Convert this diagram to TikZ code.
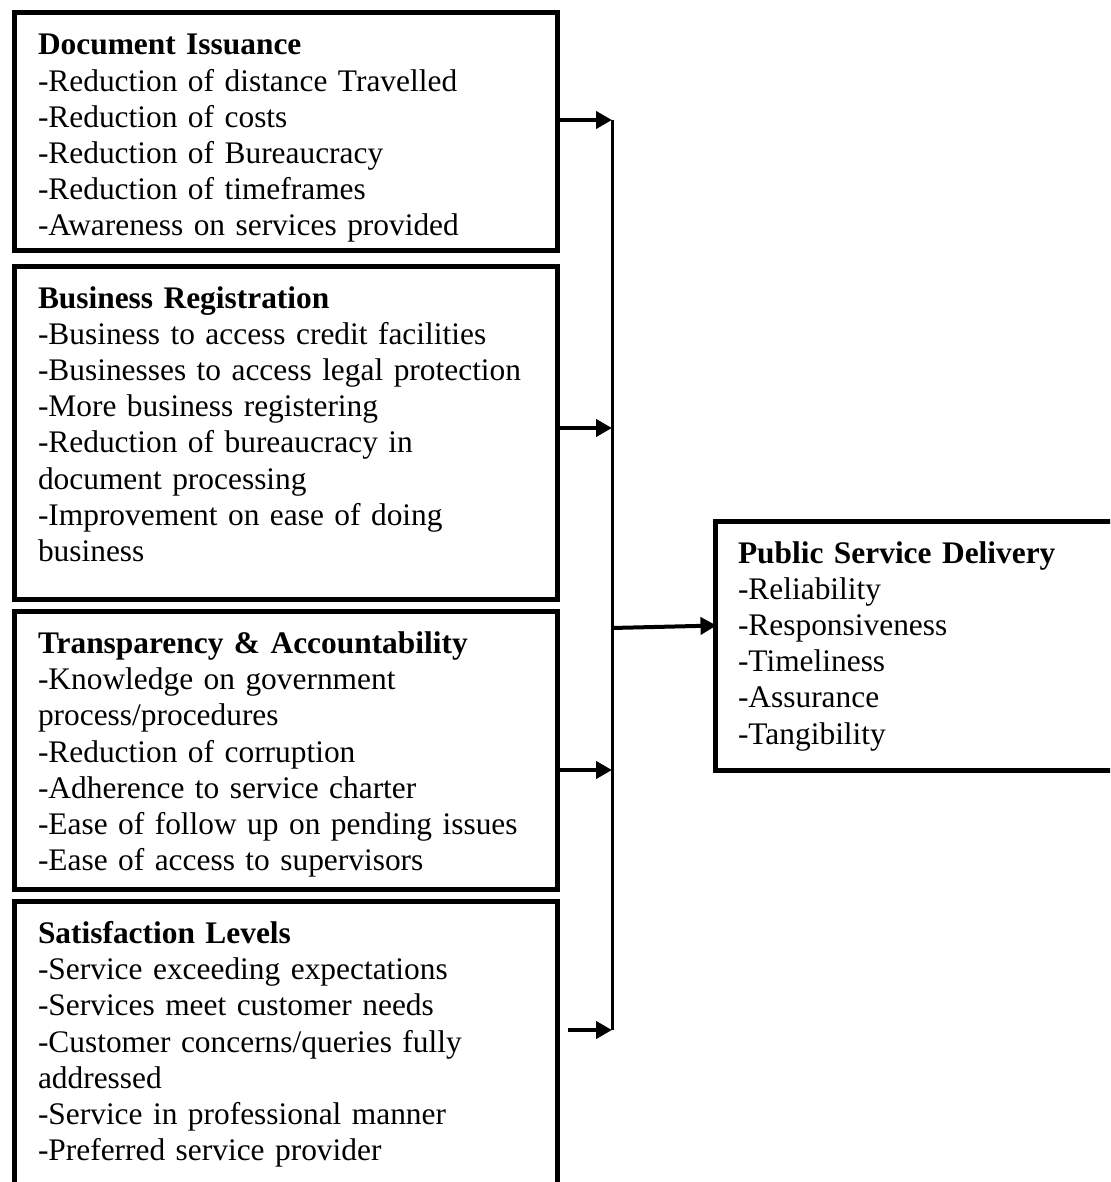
\documentclass[tikz,border=0pt]{standalone}
\usepackage{fontspec}
\setmainfont{Liberation Serif}
\usetikzlibrary{arrows.meta, positioning}

\begin{document}
\begin{tikzpicture}[x=0.5pt, y=-0.5pt]
    \tikzset{
        block/.style = {rectangle, draw, line width=2.5pt, text width=247.5pt, inner xsep=12pt, inner ysep=0pt, text height=21pt, align=left, font=\fontsize{15.7}{18.1}\selectfont},
        line/.style = {draw, line width=2pt, -{Triangle[length=8pt, width=8.5pt]}},
        trunk/.style = {draw, line width=1.5pt}
    }
    \useasboundingbox (0,0) rectangle (1110,1182);
    \clip (0,0) rectangle (1110,1182);

    % left column
    \node[block, anchor=north west, text depth=97.5pt] (issue) at (11.5,10.5) {\textbf{Document Issuance}\\-Reduction of distance Travelled\\-Reduction of costs\\-Reduction of Bureaucracy\\-Reduction of timeframes\\-Awareness on services provided};
    \node[block, below=5.5pt of issue, text depth=145.5pt] (business) {\textbf{Business Registration}\\-Business to access credit facilities\\-Businesses to access legal protection\\-More business registering\\-Reduction of bureaucracy in\\document processing\\-Improvement on ease of doing\\business};
    \node[block, below=3.75pt of business, text depth=118pt] (transparency) {\textbf{Transparency \& Accountability}\\-Knowledge on government\\process/procedures\\-Reduction of corruption\\-Adherence to service charter\\-Ease of follow up on pending issues\\-Ease of access to supervisors};
    \node[block, below=3.5pt of transparency, text depth=135pt] (satisfaction) {\textbf{Satisfaction Levels}\\-Service exceeding expectations\\-Services meet customer needs\\-Customer concerns/queries fully\\addressed\\-Service in professional manner\\-Preferred service provider};

    % outcome
    \node[block, anchor=north west, text width=180pt, inner xsep=11.5pt, text depth=103.5pt] (delivery) at (712.5,518.5) {\textbf{Public Service Delivery}\\-Reliability\\-Responsiveness\\-Timeliness\\-Assurance\\-Tangibility};

    % collecting line
    \coordinate (j1) at (612,120);
    \coordinate (j2) at (612,428);
    \coordinate (j3) at (612,770);
    \coordinate (j4) at (612,1030);
    \coordinate (jout) at (612,628);
    \path[trunk] (j1) -- (j4);

    \path[line] (issue.east |- j1) -- (j1);
    \path[line] (business.east |- j2) -- (j2);
    \path[line] (transparency.east |- j3) -- (j3);
    \path[line] ([xshift=4pt]satisfaction.east |- j4) -- (j4);
    \path[line] (jout) -- ([xshift=2pt, yshift=10pt]delivery.west);
\end{tikzpicture}
\end{document}
